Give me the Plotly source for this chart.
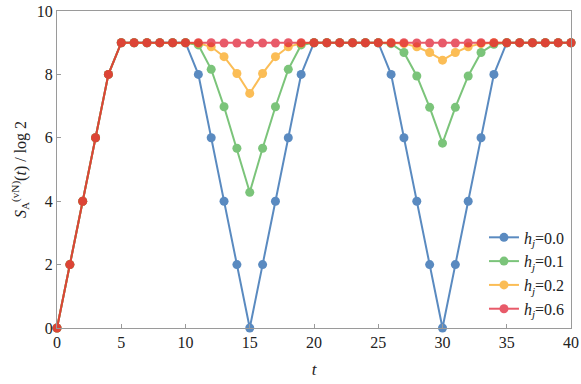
import plotly.graph_objects as go

t = list(range(0, 41))

rise = [0, 2, 4, 6, 8]
s_h00 = rise + [9]*6 + [8, 6, 4, 2, 0, 2, 4, 6, 8] + [9]*6 + [8, 6, 4, 2, 0, 2, 4, 6, 8] + [9]*6
s_h01 = rise + [9]*6 + [8.93, 8.16, 6.98, 5.67, 4.28, 5.67, 6.98, 8.16, 8.93] + [9]*6 + \
        [8.97, 8.69, 7.95, 6.96, 5.83, 6.96, 7.95, 8.69, 8.95] + [9]*6
s_h02 = rise + [9]*6 + [8.98, 8.87, 8.56, 8.03, 7.40, 8.03, 8.56, 8.87, 8.98] + [9]*6 + \
        [9.0, 8.97, 8.87, 8.69, 8.45, 8.69, 8.87, 8.97, 9.0] + [9]*6
s_h06 = rise + [9]*6 + [9.0, 9.0, 8.99, 8.99, 8.98, 8.99, 8.99, 9.0, 9.0] + [9]*6 + \
        [9.0, 9.0, 8.99, 8.99, 8.99, 8.99, 8.99, 9.0, 9.0] + [9]*6

labels = ["0.0", "0.1", "0.2", "0.6"]
series = [s_h00, s_h01, s_h02, s_h06]
colors = ["rgb(35,100,172)", "rgb(80,177,78)", "rgb(250,168,30)", "rgb(225,36,56)"]

x_ticks = [0, 5, 10, 15, 20, 25, 30, 35, 40]
y_ticks = [0, 2, 4, 6, 8, 10]

FONT = "'Liberation Serif', 'DejaVu Serif', serif"

fig = go.Figure()
for lab, ys, c in zip(labels, series, colors):
    fig.add_trace(go.Scatter(
        x=t, y=ys, mode="lines+markers",
        name="<i>h</i><sub><i>j</i></sub>=" + lab,
        line=dict(color=c, width=2),
        marker=dict(color=c, size=9),
        opacity=0.75,
        cliponaxis=False,
    ))

axis_common = dict(
    showgrid=False, zeroline=False, showline=True, linecolor="#9a9a9a", linewidth=1,
    mirror=True, ticks="inside", ticklen=4, tickcolor="#9a9a9a", automargin=False,
    tickfont=dict(family=FONT, size=16, color="#222"),
)

fig.update_layout(
    width=581, height=384,
    margin=dict(l=57, r=10, t=11, b=56),
    paper_bgcolor="white", plot_bgcolor="white",
    font=dict(family=FONT, size=16, color="#222"),
    xaxis=dict(range=[0, 40], tickvals=x_ticks,
               title=dict(text="<i>t</i>", font=dict(family=FONT, size=17), standoff=12),
               **axis_common),
    yaxis=dict(range=[0, 10], tickvals=y_ticks,
               title=dict(text="<i>S</i><sub>A</sub><sup>(vN)</sup>(<i>t</i>) / log 2",
                          font=dict(family=FONT, size=16), standoff=6),
               **axis_common),
    legend=dict(x=0.998, y=0.005, xanchor="right", yanchor="bottom",
                bgcolor="rgba(255,255,255,0)", font=dict(family=FONT, size=16),
                tracegroupgap=0, itemwidth=30),
)

fig.write_html("out.html", config={"displayModeBar": False},
               post_script="document.body.style.margin='0';document.body.style.overflow='hidden';")
